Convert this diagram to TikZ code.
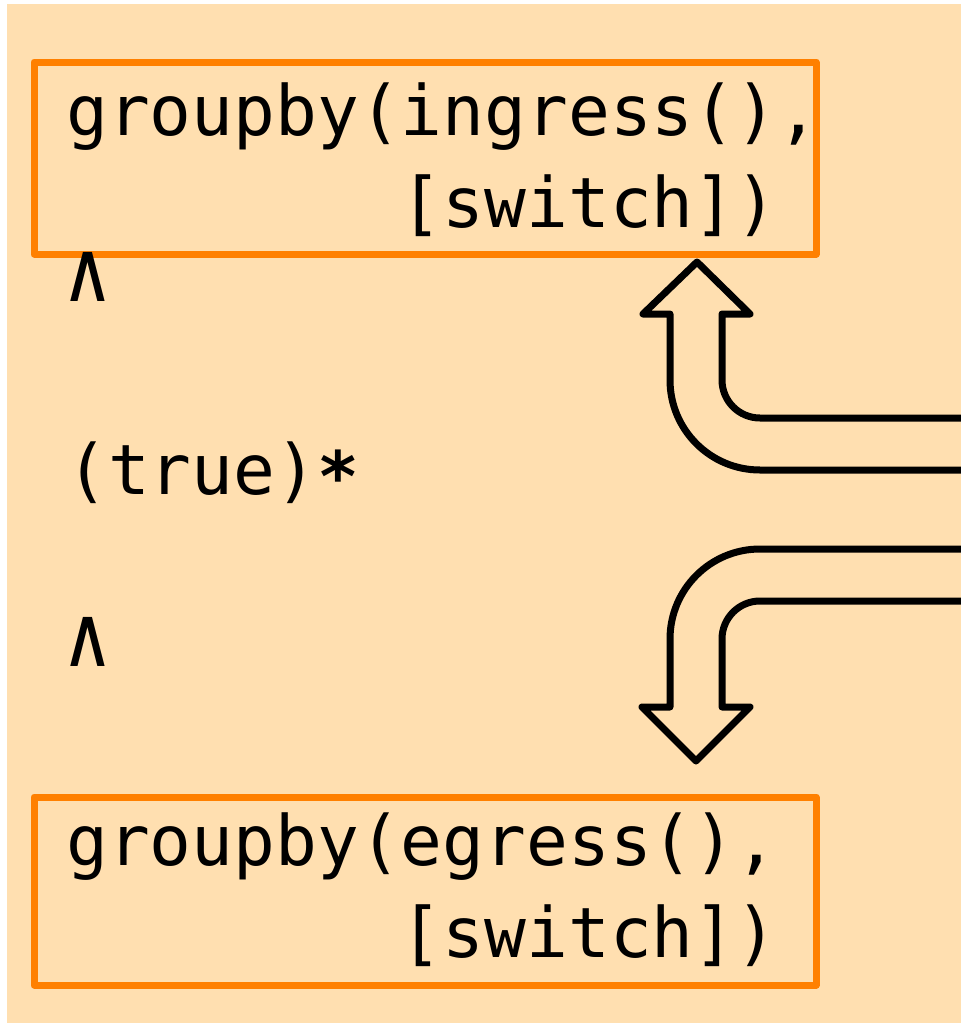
\documentclass[tikz,border=0pt]{standalone}
\usepackage{fontspec}
\usepackage{graphicx}
\newfontfamily\codefont{DejaVu Sans Mono}
\definecolor{peach}{RGB}{255,223,176}
\definecolor{boxorange}{RGB}{255,128,0}
\begin{document}
\begin{tikzpicture}[x=1pt,y=-1pt,
  codebox/.style={draw=boxorange,line width=7pt,line join=round,anchor=north west,inner sep=0pt,outer sep=0pt},
  code/.style={anchor=base west,inner sep=0pt,font=\codefont\fontsize{69.5}{92}\selectfont},
  blockarrow/.style={draw=black,line width=7pt,line join=round,line cap=round}]
\useasboundingbox (0,0) rectangle (961,1023);
\fill[peach] (7,4) rectangle (961,1023);
% boxes
\node[codebox,minimum width=782pt,minimum height=192pt] (topbox) at (34,62) {};
\node[codebox,minimum width=782pt,minimum height=188pt] (botbox) at (34,797) {};
% texts
\node[code] (t1) at (66,135) {groupby(ingress(),};
\node[code] (t2) at (66,227) {\phantom{groupby(}[switch])};
\node[code] (and1) at (64,301) {\scalebox{1.12}[1.22]{∧}};
\node[code] (star) at (66,494) {(true)\raisebox{-7pt}{\bfseries *}};
\node[code] (and2) at (64,666) {\scalebox{1.12}[1.22]{∧}};
\node[code] (b1) at (66,865) {groupby(egress(),};
\node[code] (b2) at (66,957) {\phantom{groupby(}[switch])};
% arrows
\begin{scope}
\clip (0,0) rectangle (961,1023);
\draw[blockarrow] (975,418) -- (760,418) arc[start angle=90,end angle=180,radius=38] -- (722,314) -- (750,314) -- (697,262) -- (643,314) -- (670,314) -- (670,380) arc[start angle=180,end angle=90,radius=90] -- (975,470);
\draw[blockarrow] (975,549) -- (760,549) arc[start angle=270,end angle=180,radius=90] -- (670,707) -- (642,707) -- (696,761) -- (750,707) -- (722,707) -- (722,639) arc[start angle=180,end angle=270,radius=38] -- (975,601);
\end{scope}
\end{tikzpicture}
\end{document}
